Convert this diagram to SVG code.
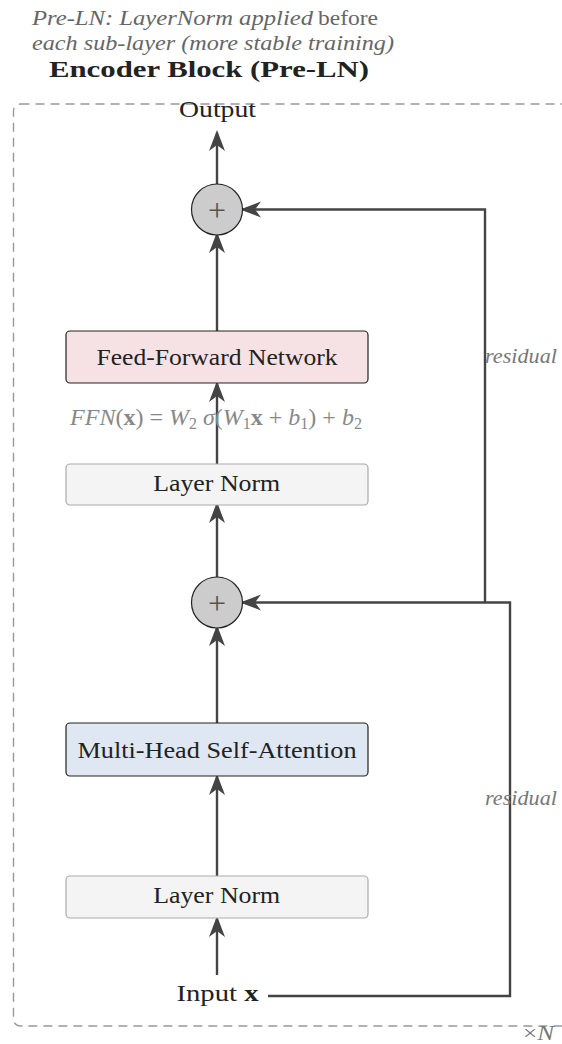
<svg xmlns="http://www.w3.org/2000/svg" width="562" height="1044" viewBox="0 0 562 1044">
<style>
text{font-family:"Liberation Serif","DejaVu Serif",serif;}
.lbl{font-size:24px;fill:#222;text-anchor:middle;}
.cap{font-size:22px;fill:#666;font-style:italic;}
.it{font-style:italic;}
.conn{fill:none;stroke:#444;stroke-width:2.4;marker-end:url(#ah);}
.sum circle{fill:#cccccc;stroke:#222;stroke-width:1.2;}
.sum text{font-size:32px;fill:#555;text-anchor:middle;}
</style>
<defs>
<marker id="ah" markerUnits="userSpaceOnUse" markerWidth="30" markerHeight="30" viewBox="-24 -10 30 20" refX="-3" refY="0" orient="auto">
<path d="M0,0 L-21,-8 L-15,0 L-21,8 Z" fill="#444"/>
</marker>
</defs>

<g id="caption">
<text class="cap" x="32" y="25" textLength="281" lengthAdjust="spacingAndGlyphs">Pre-LN: LayerNorm applied</text>
<text x="318" y="25" font-size="22" fill="#666" textLength="60" lengthAdjust="spacingAndGlyphs">before</text>
<text class="cap" x="32" y="50" textLength="362" lengthAdjust="spacingAndGlyphs">each sub-layer (more stable training)</text>
</g>
<g id="title">
<text x="49" y="77" font-size="24" font-weight="bold" fill="#222" textLength="320" lengthAdjust="spacingAndGlyphs">Encoder Block (Pre-LN)</text>
</g>

<g id="frame">
<rect x="13.5" y="104" width="570" height="922" rx="7" fill="none" stroke="#999" stroke-width="1.4" stroke-dasharray="9 6"/>
</g>

<g id="connectors">
<path class="conn" d="M217,184 V133"/>
<path class="conn" d="M217,331 V235"/>
<path class="conn" d="M217,464 V384"/>
<path class="conn" d="M217,577 V505"/>
<path class="conn" d="M217,723 V628"/>
<path class="conn" d="M217,876 V777"/>
<path class="conn" d="M217,975 V919"/>
<path class="conn" d="M485,602.5 V209.5 H243"/>
<path class="conn" d="M268,996 H510 V602.5 H243"/>
</g>

<g id="output">
<text class="lbl" x="217.5" y="117" textLength="77" lengthAdjust="spacingAndGlyphs">Output</text>
</g>

<g id="sum1" class="sum">
<circle cx="217" cy="209.5" r="25.5"/>
<text x="217" y="220.5" font-weight="300">+</text>
</g>

<g id="ffn">
<rect x="66" y="331" width="302" height="52" rx="4" fill="#f6e2e5" stroke="#222" stroke-width="1.2"/>
<text class="lbl" x="217" y="365" textLength="241" lengthAdjust="spacingAndGlyphs">Feed-Forward Network</text>
</g>

<g id="ffn-formula">
<text x="216" y="425" font-size="24" fill="#888" text-anchor="middle"><tspan class="it">FFN</tspan>(<tspan font-weight="bold">x</tspan>) = <tspan class="it">W</tspan><tspan font-size="16" dy="4">2</tspan><tspan class="it" dy="-4"> σ</tspan>(<tspan class="it">W</tspan><tspan font-size="16" dy="4">1</tspan><tspan font-weight="bold" dy="-4">x</tspan> + <tspan class="it">b</tspan><tspan font-size="16" dy="4">1</tspan><tspan dy="-4">) + </tspan><tspan class="it">b</tspan><tspan font-size="16" dy="4">2</tspan></text>
</g>

<g id="ln1">
<rect x="66" y="464" width="302" height="41" rx="4" fill="#f4f4f4" stroke="#aaa" stroke-width="1.2"/>
<text class="lbl" x="216.7" y="491" textLength="127" lengthAdjust="spacingAndGlyphs">Layer Norm</text>
</g>

<g id="sum2" class="sum">
<circle cx="217" cy="602.5" r="25.5"/>
<text x="217" y="613.5">+</text>
</g>

<g id="mhsa">
<rect x="66" y="723" width="302" height="53" rx="4" fill="#dfe8f2" stroke="#222" stroke-width="1.2"/>
<text class="lbl" x="217" y="758" textLength="279" lengthAdjust="spacingAndGlyphs">Multi-Head Self-Attention</text>
</g>

<g id="ln2">
<rect x="66" y="876" width="302" height="42" rx="4" fill="#f4f4f4" stroke="#aaa" stroke-width="1.2"/>
<text class="lbl" x="216.7" y="903" textLength="127" lengthAdjust="spacingAndGlyphs">Layer Norm</text>
</g>

<g id="input">
<text class="lbl" x="217.5" y="1001" textLength="82" lengthAdjust="spacingAndGlyphs">Input <tspan font-weight="bold">x</tspan></text>
</g>

<g id="labels">
<text x="485" y="363" font-size="20" fill="#777" font-style="italic" textLength="72" lengthAdjust="spacingAndGlyphs">residual</text>
<text x="485" y="805" font-size="20" fill="#777" font-style="italic" textLength="72" lengthAdjust="spacingAndGlyphs">residual</text>
<text x="523" y="1040" font-size="20" fill="#777" textLength="31" lengthAdjust="spacingAndGlyphs">×<tspan font-style="italic">N</tspan></text>
</g>
</svg>
